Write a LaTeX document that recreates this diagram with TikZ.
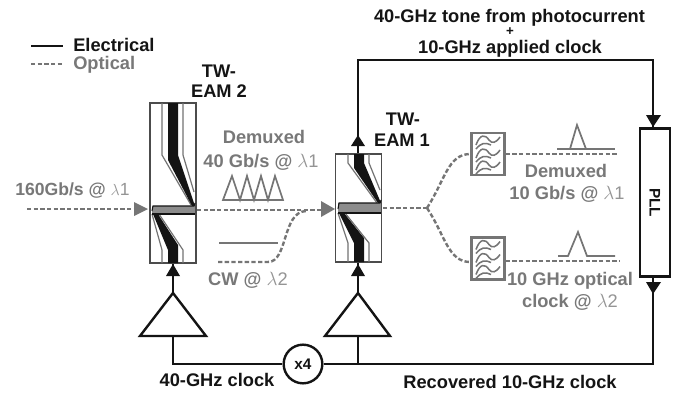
\documentclass[tikz,border=0pt]{standalone}
\usepackage{fontspec}
\setmainfont{Liberation Sans}
\usetikzlibrary{arrows.meta,calc}
\definecolor{optgray}{gray}{0.46}
\definecolor{txtgray}{gray}{0.47}
\definecolor{lamgray}{gray}{0.58}
\definecolor{ink}{gray}{0.08}
\newcommand{\lamA}{\textcolor{lamgray}{\textmd{$\lambda$1}}}
\newcommand{\lamB}{\textcolor{lamgray}{\textmd{$\lambda$2}}}
\tikzset{
  elec/.style={draw=ink,line width=1.8pt},
  opt/.style={draw=optgray,line width=1.8pt,dash pattern=on 3.3pt off 1.7pt},
  gline/.style={draw=optgray,line width=1.3pt},
  trace/.style={draw=black!55,line width=.9pt},
  lbl/.style={font=\bfseries\fontsize{13.7}{15}\selectfont,text=ink,inner sep=0pt,align=center,anchor=base},
  glbl/.style={font=\bfseries\fontsize{13.7}{15}\selectfont,text=txtgray,inner sep=0pt,align=center,anchor=base},
  eleHead/.style={fill=ink,draw=none},
  optHead/.style={fill=optgray,draw=none},
  eambox/.style={draw=black!70,line width=1.1pt,fill=white,inner sep=0pt,minimum width=34.5pt},
  filt/.style={draw=optgray,line width=1.9pt,fill=white,inner sep=0pt,minimum width=24.5pt,minimum height=31.5pt},
  amp/.style={draw=ink,line width=1.8pt,line join=miter,fill=white},
}
% #1 left x, #2 top y, #3 top bend y, #4 channel centre y, #5 half channel, #6 bottom bend y, #7 bottom y
\newcommand{\eamchip}[7]{%
  \draw[trace] ({#1+12},#2) -- ({#1+12},#3) -- ({#1+41},{#4-5});
  \draw[trace] ({#1+33},#2) -- ({#1+33},#3) -- ({#1+44},{#4-18});
  \fill[ink] ({#1+18},#2) -- ({#1+28},#2) -- ({#1+28},#3) -- ({#1+45},{#4-#5}) -- ({#1+42},{#4-#5}) -- ({#1+18},{#3+5}) -- cycle;
  \fill[ink] ({#1+3},{#4+#5}) -- ({#1+8},{#4+#5}) -- ({#1+28},{#6-5}) -- ({#1+28},#7) -- ({#1+18},#7) -- ({#1+18},#6) -- cycle;
  \draw[trace] ({#1+2},{#4+#5}) -- ({#1+12},#6) -- ({#1+12},#7);
  \draw[trace] ({#1+9},{#4+#5}) -- ({#1+33},#6) -- ({#1+33},#7);
  \fill[black!45] ({#1+2},{#4-#5}) rectangle ({#1+45},{#4+#5});
  \draw[ink,line width=.8pt] ({#1+2},{#4+1}) -- ({#1+3},{#4-#5}) -- ({#1+44},{#4-#5}) -- ({#1+45},{#4-#5-3});
  \draw[ink,line width=.8pt] ({#1+2},{#4+#5}) -- ({#1+45},{#4+#5});
}
\newcommand{\filterwaves}[2]{%
  \foreach \dy in {-12,1,13} {
    \draw[draw=optgray,line width=1.15pt] ({#1-12},{#2+\dy+3}) .. controls ({#1-8},{#2+\dy-8}) and ({#1-3},{#2+\dy-8}) .. ({#1+1},{#2+\dy-2}) .. controls ({#1+4},{#2+\dy+2}) and ({#1+8},{#2+\dy+1}) .. ({#1+12},{#2+\dy-5});
    \draw[draw=optgray,line width=1.15pt] ({#1-12},{#2+\dy+7}) .. controls ({#1-7},{#2+\dy+1}) and ({#1-3},{#2+\dy}) .. ({#1+3},{#2+\dy+3});
  }
}
\begin{document}
\begin{tikzpicture}[x=0.75pt,y=-0.75pt]
\useasboundingbox (0,0) rectangle (676,397);
% legend
\coordinate (legA) at (31,46); \coordinate (legB) at (63,46);
\coordinate (legC) at (31,64); \coordinate (legD) at (63,64);
\draw[elec] (legA) -- (legB);
\draw[opt] (legC) -- (legD);
\node[lbl,anchor=base west] (tElec) at (73,51) {Electrical};
\node[glbl,anchor=base west] (tOpt) at (73,69) {Optical};
% chips
\node[eambox,minimum height=120pt] (eamB) at (173,183) {};
\eamchip{150}{103}{155}{210}{4}{250}{263}
\node[eambox,minimum height=81pt] (eamA) at (358.5,208) {};
\eamchip{336}{154}{163}{208}{5}{243}{262}
% named points
\coordinate (inS) at (27,209);
\coordinate (ampBa) at (173,293);
\coordinate (ampBl) at (140,336);
\coordinate (ampBr) at (206,336);
\coordinate (ampAa) at (358,293);
\coordinate (ampAl) at (325,336);
\coordinate (ampAr) at (390,336);
\coordinate (busB) at (173,364);
\coordinate (busA) at (358,364);
\coordinate (busC) at (653,364);
\coordinate (ampBb) at (173,336);
\coordinate (ampAb) at (358,336);
\coordinate (fork) at (427,208);
% optical paths
\draw[opt] (inS) -- (136,209);
\fill[optHead] (148,209) -- (134,202) -- (134,216) -- cycle;
\draw[opt] (197,210) -- (322,210);
\fill[optHead] (335,209) -- (321,201) -- (321,217) -- cycle;
\draw[opt] (218,262) -- (268,262) .. controls (288,262) and (282,212) .. (306,211);
\draw[opt] (383,208) -- (fork);
% filters
\node[filt] (filA) at (488,154) {};
\node[filt] (filB) at (488,258.5) {};
\filterwaves{488}{154}
\filterwaves{488}{258.5}
\draw[opt] (fork) .. controls (445,180) and (448,154) .. (filA.west);
\draw[opt] (fork) .. controls (445,235) and (448,262) .. (filB.west |- 0,262);
\draw[opt] (filA.east) -- (617,154);
\draw[opt] (filB.east |- 0,261) -- (620,261);
% pulses
\draw[gline] (557,149) -- (615,149);
\draw[gline] (570,149) -- (577,125) -- (586,149);
\draw[gline] (558,256) -- (568,256) -- (578,232) -- (587,256) -- (615,256);
% 40G wave and CW
\draw[gline,line join=miter] (223,200) -- (232,176) -- (240,200) -- (247,176) -- (254,200) -- (261,176) -- (268,200) -- (275,176) -- (283,200) -- cycle;
\draw[gline] (219,243) -- (278,243);
% PLL
\node[draw=ink,line width=2.2pt,fill=white,inner sep=0pt,minimum width=22.5pt,minimum height=111.5pt] (pll) at (655,202.5) {};
\node[lbl,rotate=-90,anchor=center,font=\bfseries\fontsize{11.5}{13}\selectfont] (tPll) at (pll.center) {PLL};
% x4
\node[circle,draw=ink,line width=1.8pt,fill=white,inner sep=0pt,minimum size=29pt,font=\bfseries\fontsize{11.5}{13}\selectfont,text=ink] (xfour) at (303,364) {x4};
% amps
\draw[amp] (ampBa) -- (ampBr) -- (ampBl) -- cycle;
\draw[amp] (ampAa) -- (ampAr) -- (ampAl) -- cycle;
% electrical
\draw[elec] (ampBa) -- (eamB.south -| ampBa);
\draw[elec] (ampAa) -- (eamA.south -| ampAa);
\fill[eleHead] (173,264) -- (166,276) -- (180,276) -- cycle;
\fill[eleHead] (358,264) -- (351,276) -- (365,276) -- cycle;
\draw[elec] (ampBb) -- (busB) -- (xfour);
\draw[elec] (xfour) -- (busC) -- (busC |- pll.south);
\draw[elec] (ampAb) -- (busA);
\fill[eleHead] (653,294) -- (646,282) -- (661,282) -- cycle;
\draw[elec,line width=2.2pt,line join=miter] (eamA.north -| ampAa) -- (358,60) -- (653,60) -- (pll.north -| busC);
\fill[eleHead] (358,135) -- (351,146) -- (365,146) -- cycle;
\fill[eleHead] (653,127) -- (646,115) -- (661,115) -- cycle;
% labels
\node[lbl] (tTopA) at (509.5,22) {40-GHz tone from photocurrent};
\node[lbl,font=\bfseries\fontsize{10}{11}\selectfont] (tTopB) at (510,35.5) {+};
\node[lbl] (tTopC) at (510,53) {10-GHz applied clock};
\node[lbl] (tEamB1) at (219,77) {TW-};
\node[lbl] (tEamB2) at (219,97) {EAM 2};
\node[lbl] (tEamA1) at (403,125) {TW-};
\node[lbl] (tEamA2) at (402,146) {EAM 1};
\node[glbl,anchor=base west,font=\bfseries\fontsize{13.2}{15}\selectfont] (tIn) at (15,195) {160Gb/s @ \lamA};
\node[glbl] (tDemB1) at (264,143) {Demuxed};
\node[glbl] (tDemB2) at (261,167) {40 Gb/s @ \lamA};
\node[glbl] (tCw) at (248,285) {CW @ \lamB};
\node[glbl] (tDemA1) at (566,177) {Demuxed};
\node[glbl] (tDemA2) at (567,199) {10 Gb/s @ \lamA};
\node[glbl] (tClk1) at (570,285) {10 GHz optical};
\node[glbl] (tClk2) at (570,307) {clock @ \lamB};
\node[lbl] (tClk40) at (217,386) {40-GHz clock};
\node[lbl] (tRec) at (510,388) {Recovered 10-GHz clock};
\end{tikzpicture}
\end{document}
